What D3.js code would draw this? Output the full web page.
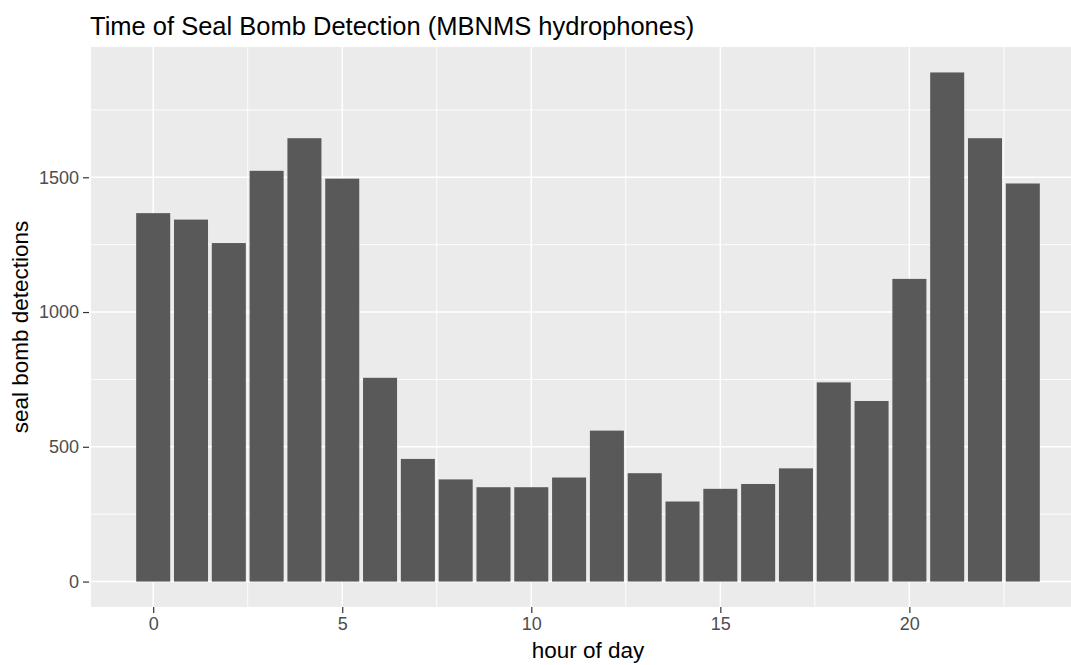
<!DOCTYPE html>
<html>
<head>
<meta charset="utf-8">
<script src="https://cdn.jsdelivr.net/npm/d3@7"></script>
<style>
  body { margin: 0; background: #fff; }
  svg { display: block; font-family: "Liberation Sans", Arial, sans-serif; }
</style>
</head>
<body>
<svg id="chart"></svg>
<script>
// hour of day and detections per hour
const hours = [0, 1, 2, 3, 4, 5, 6, 7, 8, 9, 10, 11, 12, 13, 14, 15, 16, 17, 18, 19, 20, 21, 22, 23];
const detections = [1367, 1343, 1256, 1524, 1645, 1495, 756, 455, 379, 350, 350, 386, 560, 402, 297, 344, 362, 420, 739, 670, 1123, 1889, 1645, 1477];
const xTicks = [0, 5, 10, 15, 20];
const xMinor = [2.5, 7.5, 12.5, 17.5, 22.5];
const yTicks = [0, 500, 1000, 1500];
const yMinor = [250, 750, 1250, 1750];

window.onload = function() {
    drawChart();
}

function drawChart() {
    const width = 1071, height = 665;
    const panel = { left: 91, right: 1085, top: 47, bottom: 607 };

    const svg = d3.select("#chart")
        .attr('width', width)
        .attr('height', height);

    // ggplot style: bars span x±0.45, domain expanded 5%
    const lo = d3.min(hours) - 0.45, hi = d3.max(hours) + 0.45;
    const padX = (hi - lo) * 0.05;
    const xScale = d3.scaleLinear()
        .domain([lo - padX, hi + padX])
        .range([panel.left, panel.right]);

    const ymax = d3.max(detections);
    const yScale = d3.scaleLinear()
        .domain([-ymax * 0.05, ymax * 1.05])
        .range([panel.bottom, panel.top]);

    // panel background
    svg.append('rect')
        .attr('x', panel.left)
        .attr('y', panel.top)
        .attr('width', panel.right - panel.left)
        .attr('height', panel.bottom - panel.top)
        .attr('fill', '#EBEBEB');

    const grid = svg.append('g');
    // minor grid
    grid.selectAll('.vminor').data(xMinor).enter().append('line')
        .attr('x1', d => xScale(d)).attr('x2', d => xScale(d))
        .attr('y1', panel.top).attr('y2', panel.bottom)
        .attr('stroke', '#fff').attr('stroke-width', 0.9);
    grid.selectAll('.hminor').data(yMinor).enter().append('line')
        .attr('y1', d => yScale(d)).attr('y2', d => yScale(d))
        .attr('x1', panel.left).attr('x2', panel.right)
        .attr('stroke', '#fff').attr('stroke-width', 0.9);
    // major grid
    grid.selectAll('.vmajor').data(xTicks).enter().append('line')
        .attr('x1', d => xScale(d)).attr('x2', d => xScale(d))
        .attr('y1', panel.top).attr('y2', panel.bottom)
        .attr('stroke', '#fff').attr('stroke-width', 1.5);
    grid.selectAll('.hmajor').data(yTicks).enter().append('line')
        .attr('y1', d => yScale(d)).attr('y2', d => yScale(d))
        .attr('x1', panel.left).attr('x2', panel.right)
        .attr('stroke', '#fff').attr('stroke-width', 1.5);

    // bars
    const bw = xScale(0.9) - xScale(0);
    svg.selectAll('rect.bar')
        .data(detections)
        .enter()
        .append('rect')
        .attr('class', 'bar')
        .attr('x', (d, i) => xScale(hours[i] - 0.45))
        .attr('y', d => yScale(d))
        .attr('width', bw)
        .attr('height', d => yScale(0) - yScale(d))
        .attr('fill', '#595959');

    // axes
    const xAxis = d3.axisBottom(xScale).tickValues(xTicks).tickSize(6).tickPadding(4);
    const gx = svg.append('g')
        .attr('transform', `translate(0,${panel.bottom})`)
        .call(xAxis);
    gx.select('.domain').remove();
    gx.selectAll('line').attr('stroke', '#333').attr('stroke-width', 1.2);
    gx.selectAll('text').attr('fill', '#4D4D4D').style('font-size', '18px');

    const yAxis = d3.axisLeft(yScale).tickValues(yTicks).tickFormat(d3.format('d')).tickSize(6).tickPadding(4);
    const gy = svg.append('g')
        .attr('transform', `translate(${panel.left - 2},0)`)
        .call(yAxis);
    gy.select('.domain').remove();
    gy.selectAll('line').attr('stroke', '#333').attr('stroke-width', 1.2);
    gy.selectAll('text').attr('fill', '#4D4D4D').style('font-size', '18px');

    // titles
    svg.append('text')
        .attr('x', 90).attr('y', 35)
        .style('font-size', '25.5px')
        .attr('fill', '#000')
        .text('Time of Seal Bomb Detection (MBNMS hydrophones)');

    svg.append('text')
        .attr('x', (panel.left + panel.right) / 2).attr('y', 658)
        .attr('text-anchor', 'middle')
        .style('font-size', '22.5px')
        .attr('fill', '#000')
        .text('hour of day');

    svg.append('text')
        .attr('transform', `translate(28,${(panel.top + panel.bottom) / 2}) rotate(-90)`)
        .attr('text-anchor', 'middle')
        .style('font-size', '22.5px')
        .attr('fill', '#000')
        .text('seal bomb detections');
}
</script>
</body>
</html>
